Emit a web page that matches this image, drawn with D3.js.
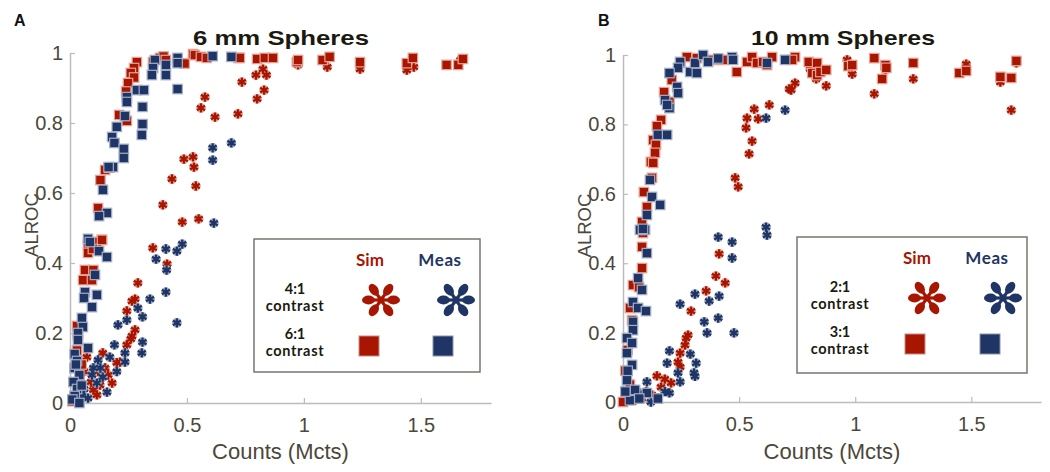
<!DOCTYPE html>
<html><head><meta charset="utf-8">
<script src="https://cdn.jsdelivr.net/npm/d3@7"></script>
<style>
html,body{margin:0;padding:0;background:#fff;}
svg{display:block;}
</style></head>
<body>
<svg id="chart" width="1050" height="472"></svg>
<script>
// ---------- DATA ----------
const panelLetters = ["A", "B"];
const panelTitles = ["6 mm Spheres", "10 mm Spheres"];
const xTicks = [0, 0.5, 1, 1.5];
const yTicks = [0, 0.2, 0.4, 0.6, 0.8, 1];
const xLabel = "Counts (Mcts)";
const yLabel = "ALROC";
const legendCols = ["Sim", "Meas"];
const legendRowsA = ["4:1", "6:1"];
const legendRowsB = ["2:1", "3:1"];

// Panel A: 6 mm spheres
const aSimStar = [[0.825,0.954],[0.795,0.937],[0.84,0.937],[0.83,0.894],[0.80,0.869],[0.975,0.966],[1.10,0.96],[1.24,0.954],[1.44,0.951],[1.47,0.96],[1.67,0.98],[0.735,0.917],[0.577,0.874],[0.56,0.843],[0.62,0.817],[0.718,0.826],[0.487,0.697],[0.526,0.703],[0.53,0.674],[0.436,0.64],[0.538,0.62],[0.397,0.566],[0.48,0.517],[0.55,0.526],[0.354,0.443],[0.415,0.397],[0.29,0.343],[0.278,0.297],[0.265,0.291],[0.243,0.263],[0.278,0.209],[0.265,0.191],[0.26,0.183],[0.243,0.166],[0.14,0.143],[0.214,0.117],[0.072,0.131],[0.163,0.08],[0.18,0.057],[0.128,0.051],[0.1,0.037],[0.115,0.023],[0.055,0.017],[0.035,0.003],[0.09,0.06],[0.06,0.09],[0.15,0.1],[0.12,0.09],[0.2,0.115]];
const aMeasStar = [[0.69,0.743],[0.61,0.729],[0.61,0.694],[0.615,0.514],[0.48,0.454],[0.457,0.434],[0.41,0.44],[0.368,0.411],[0.413,0.38],[0.41,0.317],[0.457,0.229],[0.342,0.297],[0.29,0.271],[0.31,0.246],[0.243,0.237],[0.205,0.223],[0.31,0.174],[0.307,0.143],[0.19,0.166],[0.235,0.143],[0.235,0.117],[0.17,0.131],[0.12,0.123],[0.094,0.08],[0.14,0.074],[0.158,0.031],[0.077,0.014],[0.115,0.057],[0.06,0.04],[0.1,0.1],[0.13,0.1],[0.05,0.02],[0.2,0.09]];
const aSimSq = [[0.286,0.974],[0.274,0.957],[0.26,0.943],[0.274,0.93],[0.248,0.914],[0.24,0.89],[0.21,0.823],[0.243,0.806],[0.15,0.666],[0.167,0.672],[0.13,0.637],[0.12,0.557],[0.136,0.466],[0.355,0.974],[0.385,0.986],[0.40,0.99],[0.41,0.98],[0.49,0.97],[0.526,0.997],[0.534,0.994],[0.56,0.989],[0.585,0.986],[0.72,0.986],[0.726,0.986],[0.80,0.983],[0.833,0.986],[0.868,0.986],[0.97,0.974],[0.975,0.98],[1.08,0.98],[1.11,0.989],[1.24,0.974],[1.44,0.971],[1.466,0.986],[1.61,0.966],[1.66,0.966],[1.68,0.983],[0.077,0.451],[0.115,0.46],[0.137,0.466],[0.077,0.429],[0.098,0.44],[0.064,0.38],[0.1,0.38],[0.056,0.351],[0.094,0.351],[0.034,0.194],[0.03,0.15],[0.02,0.1],[0.04,0.06],[0.02,0.02],[0.01,0.005],[0.05,0.11],[0.03,0.22]];
const aMeasSq = [[0.363,0.98],[0.355,0.957],[0.35,0.937],[0.41,0.966],[0.41,0.937],[0.46,0.986],[0.46,0.971],[0.46,0.897],[0.61,0.991],[0.69,0.989],[0.286,0.894],[0.316,0.894],[0.243,0.874],[0.243,0.86],[0.31,0.846],[0.31,0.797],[0.307,0.766],[0.235,0.82],[0.20,0.789],[0.18,0.76],[0.19,0.743],[0.23,0.726],[0.23,0.70],[0.184,0.674],[0.165,0.674],[0.141,0.609],[0.158,0.543],[0.124,0.534],[0.077,0.469],[0.085,0.46],[0.124,0.434],[0.158,0.417],[0.107,0.366],[0.064,0.317],[0.115,0.309],[0.06,0.30],[0.094,0.274],[0.051,0.243],[0.055,0.217],[0.034,0.2],[0.034,0.18],[0.077,0.157],[0.02,0.14],[0.03,0.12],[0.02,0.1],[0.04,0.08],[0.015,0.06],[0.03,0.04],[0.02,0.02],[0.01,0.01],[0.04,0.0],[0.025,0.11],[0.05,0.05]];

// Panel B: 10 mm spheres
const bSimStar = [[0.741,0.919],[0.724,0.899],[0.965,0.986],[0.987,0.945],[0.806,0.96],[0.832,0.931],[0.875,0.911],[1.082,0.888],[1.13,0.957],[1.25,0.931],[1.478,0.974],[1.625,0.922],[1.672,0.841],[1.694,0.977],[0.716,0.902],[0.63,0.856],[0.565,0.844],[0.534,0.818],[0.582,0.816],[0.53,0.79],[0.556,0.752],[0.543,0.715],[0.483,0.646],[0.496,0.62],[0.414,0.427],[0.40,0.363],[0.44,0.343],[0.358,0.32],[0.293,0.262],[0.28,0.193],[0.272,0.184],[0.267,0.164],[0.246,0.141],[0.237,0.115],[0.246,0.101],[0.146,0.075],[0.18,0.066],[0.207,0.055],[0.164,0.043],[0.125,0.02],[0.08,0.01],[0.05,0.005],[0.1,0.03]];
const bMeasStar = [[0.616,0.818],[0.698,0.841],[0.616,0.504],[0.62,0.481],[0.41,0.475],[0.47,0.461],[0.47,0.415],[0.414,0.305],[0.371,0.291],[0.31,0.311],[0.246,0.282],[0.35,0.231],[0.41,0.242],[0.362,0.199],[0.478,0.199],[0.2,0.147],[0.29,0.138],[0.19,0.112],[0.315,0.112],[0.237,0.084],[0.306,0.084],[0.31,0.074],[0.246,0.058],[0.103,0.058],[0.2,0.026],[0.15,0.012],[0.07,0.026],[0.05,0.01],[0.12,0.0],[0.18,0.03]];
const bSimSq = [[0.275,0.994],[0.246,0.977],[0.21,0.928],[0.177,0.893],[0.2,0.865],[0.164,0.813],[0.146,0.795],[0.13,0.755],[0.142,0.741],[0.138,0.718],[0.12,0.692],[0.13,0.689],[0.125,0.646],[0.09,0.605],[0.103,0.562],[0.082,0.519],[0.086,0.487],[0.41,0.986],[0.43,0.986],[0.49,0.951],[0.534,0.98],[0.556,0.994],[0.577,0.977],[0.603,0.98],[0.642,0.994],[0.62,0.971],[0.318,0.991],[0.375,0.986],[0.741,0.994],[0.728,0.986],[0.80,0.98],[0.836,0.977],[0.815,0.948],[0.836,0.942],[0.85,0.951],[0.875,0.957],[0.97,0.968],[0.987,0.971],[1.082,0.991],[1.13,0.971],[1.134,0.963],[1.116,0.931],[1.25,0.977],[1.448,0.948],[1.478,0.954],[1.625,0.937],[1.672,0.934],[1.694,0.983],[0.082,0.447],[0.082,0.386],[0.043,0.337],[0.069,0.331],[0.03,0.271],[0.039,0.236],[0.02,0.15],[0.01,0.09],[0.03,0.05],[0.015,0.02],[0.04,0.01],[0.0,0.0],[0.06,0.01]];
const bMeasSq = [[0.246,0.98],[0.237,0.963],[0.2,0.948],[0.233,0.908],[0.237,0.89],[0.181,0.87],[0.2,0.847],[0.19,0.856],[0.15,0.77],[0.19,0.77],[0.116,0.64],[0.125,0.591],[0.16,0.568],[0.103,0.539],[0.073,0.496],[0.095,0.496],[0.289,0.951],[0.31,0.977],[0.318,0.948],[0.345,1.0],[0.366,0.98],[0.41,0.99],[0.47,0.994],[0.474,0.986],[0.62,0.977],[0.698,0.986],[0.086,0.499],[0.103,0.429],[0.065,0.357],[0.082,0.323],[0.043,0.288],[0.065,0.271],[0.099,0.262],[0.043,0.231],[0.043,0.207],[0.017,0.184],[0.039,0.17],[0.017,0.141],[0.039,0.107],[0.017,0.063],[0.052,0.035],[0.103,0.026],[0.03,0.005],[0.01,0.03],[0.07,0.01],[0.02,0.09],[0.15,0.01]];

// ---------- STYLE ----------
const RED = "#a81602", NAVY = "#1f3565";
const RED_HALO = "#e6a497", NAVY_HALO = "#a3aec6";
const AXIS = "#bcbcbc", TXT = "#4b4739";
const SANS = "'Liberation Sans', Arial, sans-serif";

const svg = d3.select("#chart");

const panels = [
  {letter: panelLetters[0], letterX: 14, title: panelTitles[0], titleX: 281, titleW: 176,
   left: 70, right: 491, top: 53, bottom: 403,
   simStar: aSimStar, measStar: aMeasStar, simSq: aSimSq, measSq: aMeasSq,
   rows: legendRowsA, leg: {x: 254, y: 239, w: 226, h: 133, rowX: 295, simX: 370, measX: 440, starSimX: 381, starMeasX: 456, sqSimX: 369, sqMeasX: 443}},
  {letter: panelLetters[1], letterX: 598, title: panelTitles[1], titleX: 843, titleW: 184,
   left: 623, right: 1041, top: 55, bottom: 402,
   simStar: bSimStar, measStar: bMeasStar, simSq: bSimSq, measSq: bMeasSq,
   rows: legendRowsB, leg: {x: 797, y: 237, w: 230, h: 136, rowX: 840, simX: 917, measX: 987, starSimX: 927, starMeasX: 1003, sqSimX: 915, sqMeasX: 990}}
];

function drawPanel(p) {
  const x = d3.scaleLinear().domain([0, 1.8]).range([p.left, p.right]);
  const y = d3.scaleLinear().domain([0, 1]).range([p.bottom, p.top]);
  const g = svg.append("g");

  // axes
  const xAxis = d3.axisBottom(x).tickValues(xTicks).tickFormat(d3.format("")).tickSizeInner(-5).tickSizeOuter(0).tickPadding(15);
  const yAxis = d3.axisLeft(y).tickValues(yTicks).tickFormat(d3.format("")).tickSizeInner(-5).tickSizeOuter(0).tickPadding(7);
  const gx = g.append("g").attr("transform", `translate(0,${p.bottom})`).call(xAxis);
  const gy = g.append("g").attr("transform", `translate(${p.left},0)`).call(yAxis);
  [gx, gy].forEach(a => {
    a.select(".domain").attr("stroke", AXIS).attr("stroke-width", 1.5);
    a.selectAll(".tick line").attr("stroke", AXIS).attr("stroke-width", 1.2);
    a.selectAll(".tick text").attr("fill", TXT).style("font-family", SANS).style("font-size", "20px");
  });

  // titles
  g.append("text").attr("x", p.titleX).attr("y", 45).attr("text-anchor", "middle")
    .attr("textLength", p.titleW).attr("lengthAdjust", "spacingAndGlyphs")
    .style("font-family", SANS).style("font-weight", "bold")
    .style("font-size", "21px").attr("fill", "#1b1a10").text(p.title);
  g.append("text").attr("x", p.letterX).attr("y", 26)
    .style("font-family", SANS).style("font-weight", "bold")
    .style("font-size", "16px").attr("fill", "#111").text(p.letter);
  g.append("text").attr("x", (p.left + p.right) / 2).attr("y", 459).attr("text-anchor", "middle")
    .style("font-family", SANS).style("font-size", "22px")
    .attr("fill", TXT).text(xLabel);
  g.append("text").attr("transform", `translate(${p.left - 32},${(p.top + p.bottom) / 2 - 3}) rotate(-90)`)
    .attr("text-anchor", "middle")
    .style("font-family", SANS).style("font-size", "18.5px")
    .attr("fill", TXT).text(yLabel);

  // markers
  const star = d3.symbol().type(d3.symbolAsterisk).size(60);
  function stars(data, col, halo) {
    const s = g.append("g");
    s.selectAll("path.h").data(data).join("path").attr("class", "h")
      .attr("d", star).attr("transform", d => `translate(${x(d[0])},${y(d[1])})`)
      .attr("fill", "none").attr("stroke", halo).attr("stroke-width", 4.5);
    s.selectAll("path.c").data(data).join("path").attr("class", "c")
      .attr("d", star).attr("transform", d => `translate(${x(d[0])},${y(d[1])})`)
      .attr("fill", "none").attr("stroke", col).attr("stroke-width", 2.3);
  }
  function squares(data, col, halo) {
    const s = 9.5;
    g.append("g").selectAll("rect").data(data).join("rect")
      .attr("x", d => x(d[0]) - s / 2).attr("y", d => y(d[1]) - s / 2)
      .attr("width", s).attr("height", s)
      .attr("fill", col).attr("stroke", halo).attr("stroke-width", 1.2);
  }
  stars(p.simStar, RED, RED_HALO);
  stars(p.measStar, NAVY, NAVY_HALO);
  squares(p.simSq, RED, RED_HALO);
  squares(p.measSq, NAVY, NAVY_HALO);

  // legend
  const L = p.leg;
  const lg = g.append("g");
  lg.append("rect").attr("x", L.x).attr("y", L.y).attr("width", L.w).attr("height", L.h)
    .attr("fill", "#fff").attr("stroke", "#77756c").attr("stroke-width", 1.5);
  const lf = "Lato, 'Open Sans', sans-serif";
  lg.append("text").attr("x", L.simX).attr("y", L.y + 27).attr("text-anchor", "middle")
    .style("font-family", lf).style("font-weight", "bold").style("font-size", "17px").attr("fill", RED).text(legendCols[0]);
  lg.append("text").attr("x", L.measX).attr("y", L.y + 27).attr("text-anchor", "middle")
    .style("font-family", lf).style("font-weight", "bold").style("font-size", "17px").style("letter-spacing", "0.6px").attr("fill", NAVY).text(legendCols[1]);
  p.rows.forEach((r, i) => {
    const by = L.y + 55 + i * 45;
    lg.append("text").attr("x", L.rowX).attr("y", by).attr("text-anchor", "middle")
      .style("font-family", lf).style("font-weight", "bold").style("font-size", "14.5px").attr("fill", "#1a1a10").text(r);
    lg.append("text").attr("x", L.rowX).attr("y", by + 17).attr("text-anchor", "middle")
      .style("font-family", lf).style("font-weight", "bold").style("font-size", "14.5px").style("letter-spacing", "0.7px").attr("fill", "#1a1a10").text("contrast");
  });
  // legend asterisk: six teardrop petals, flattened
  function flower(cx, cy, col) {
    const fg = lg.append("g").attr("transform", `translate(${cx},${cy})`);
    [90, 270, 35, 145, 215, 325].forEach(a => {
      fg.append("ellipse").attr("cx", 0).attr("cy", -12.5).attr("rx", 4.4).attr("ry", 6.5)
        .attr("transform", `rotate(${a})`).attr("fill", col);
      fg.append("line").attr("x1", 0).attr("y1", 0).attr("x2", 0).attr("y2", -8)
        .attr("transform", `rotate(${a})`).attr("stroke", col).attr("stroke-width", 3.2);
    });
    fg.append("circle").attr("r", 3.5).attr("fill", col);
  }
  const sy = L.y + 61;
  flower(L.starSimX, sy, RED);
  flower(L.starMeasX, sy, NAVY);
  const qy = L.y + 107, qs = 20;
  lg.append("rect").attr("x", L.sqSimX - qs / 2).attr("y", qy - qs / 2).attr("width", qs).attr("height", qs)
    .attr("fill", RED).attr("stroke", "#c98a80").attr("stroke-width", 1);
  lg.append("rect").attr("x", L.sqMeasX - qs / 2).attr("y", qy - qs / 2).attr("width", qs).attr("height", qs)
    .attr("fill", NAVY).attr("stroke", "#8c94a6").attr("stroke-width", 1);
}

panels.forEach(drawPanel);
</script>
</body></html>
